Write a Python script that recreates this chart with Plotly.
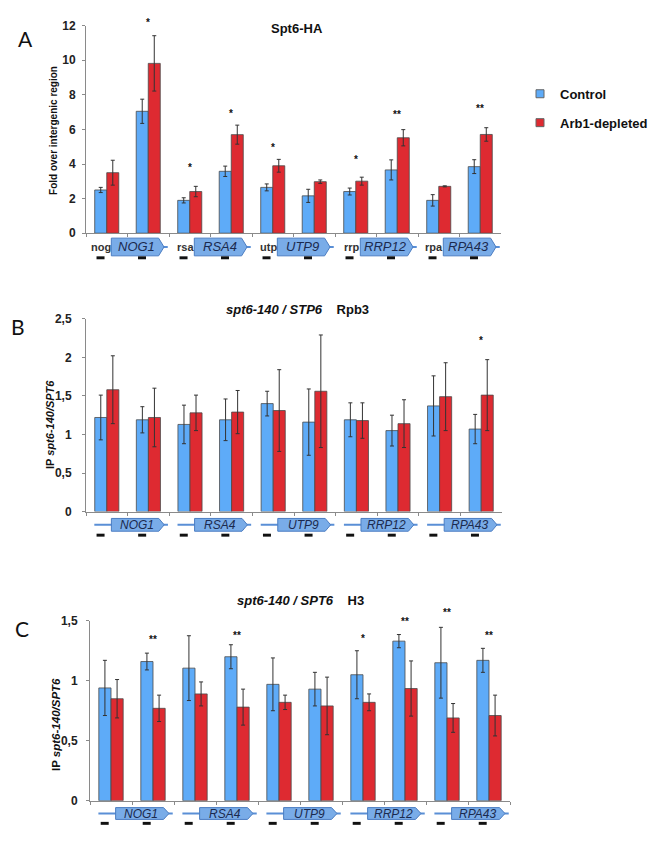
import plotly.graph_objects as go

W, H = 661, 851

# ---------------- data ----------------
categories = ["NOG1 5'", "NOG1 ORF", "RSA4 5'", "RSA4 ORF", "UTP9 5'", "UTP9 ORF",
              "RRP12 5'", "RRP12 ORF", "RPA43 5'", "RPA43 ORF"]
genes = ["NOG1", "RSA4", "UTP9", "RRP12", "RPA43"]
gene_short = ["nog", "rsa", "utp", "rrp", "rpa"]
series_names = ["Control", "Arb1-depleted"]

# Panel A: Spt6-HA, fold over intergenic region
a_control = [2.50, 7.05, 1.90, 3.58, 2.65, 2.16, 2.41, 3.66, 1.90, 3.85]
a_control_err = [0.15, 0.70, 0.15, 0.30, 0.20, 0.38, 0.20, 0.58, 0.33, 0.40]
a_arb1 = [3.50, 9.82, 2.41, 5.70, 3.90, 2.98, 3.01, 5.52, 2.71, 5.71]
a_arb1_err = [0.72, 1.60, 0.30, 0.55, 0.37, 0.10, 0.23, 0.47, 0.03, 0.39]
a_sig = ["", "*", "*", "*", "*", "", "*", "**", "", "**"]
a_sig_y = [None, 12.2, 3.8, 6.9, 4.95, None, 4.27, 6.87, None, 7.23]

# Panel B: Rpb3, IP spt6-140/SPT6
b_control = [1.22, 1.19, 1.13, 1.19, 1.40, 1.16, 1.19, 1.05, 1.37, 1.07]
b_control_err = [0.29, 0.17, 0.25, 0.27, 0.16, 0.43, 0.22, 0.20, 0.39, 0.19]
b_arb1 = [1.58, 1.22, 1.28, 1.29, 1.31, 1.56, 1.18, 1.14, 1.49, 1.51]
b_arb1_err = [0.44, 0.38, 0.23, 0.28, 0.53, 0.73, 0.23, 0.31, 0.44, 0.46]
b_sig = ["", "", "", "", "", "", "", "", "", "*"]
b_sig_y = [None, None, None, None, None, None, None, None, None, 2.22]

# Panel C: H3, IP spt6-140/SPT6
c_control = [0.94, 1.16, 1.105, 1.20, 0.97, 0.93, 1.05, 1.33, 1.15, 1.17]
c_control_err = [0.23, 0.07, 0.27, 0.10, 0.22, 0.14, 0.20, 0.055, 0.295, 0.10]
c_arb1 = [0.85, 0.77, 0.89, 0.78, 0.82, 0.79, 0.82, 0.935, 0.69, 0.71]
c_arb1_err = [0.16, 0.11, 0.10, 0.15, 0.06, 0.24, 0.07, 0.23, 0.12, 0.17]
c_sig = ["", "**", "", "**", "", "", "*", "**", "**", "**"]
c_sig_y = [None, 1.34, None, 1.38, None, None, 1.35, 1.49, 1.57, 1.38]

# ---------------- style ----------------
BLUE = "#5EABF8"
RED = "#DE2A31"
BAR_LINE = "#4a4a4a"
ERR = "#333333"
AXIS = "#8a8a8a"
FONT = "Liberation Sans, Arial, sans-serif"
GENE_FILL = "#79ACE8"
GENE_LINE = "#4B7DC2"
GENE_STROKE = "#5A8FD6"
GENE_TEXT = "#1b2a4e"


def py(px):
    return 1 - px / H


def px_x(px):
    return px / W


panels = [
    dict(s="", ctrl=a_control, ctrl_err=a_control_err, arb=a_arb1, arb_err=a_arb1_err,
         sig=a_sig, sig_y=a_sig_y, xd=(86, 501), yd=(19, 230), yr=[0, 12], dt=2, sd=4),
    dict(s="2", ctrl=b_control, ctrl_err=b_control_err, arb=b_arb1, arb_err=b_arb1_err,
         sig=b_sig, sig_y=b_sig_y, xd=(86, 502), yd=(317, 513), yr=[0, 2.5], dt=0.5, sd=8),
    dict(s="3", ctrl=c_control, ctrl_err=c_control_err, arb=c_arb1, arb_err=c_arb1_err,
         sig=c_sig, sig_y=c_sig_y, xd=(90, 510), yd=(624, 807), yr=[0, 1.5], dt=0.5, sd=6),
]

fig = go.Figure()

for k, p in enumerate(panels):
    for name, vals, errs, col in [(series_names[0], p["ctrl"], p["ctrl_err"], BLUE),
                                  (series_names[1], p["arb"], p["arb_err"], RED)]:
        fig.add_trace(go.Bar(
            x=categories, y=vals, name=name,
            marker=dict(color=col, line=dict(color=BAR_LINE, width=0.8)),
            error_y=dict(type="data", array=errs, color=ERR, thickness=1, width=2),
            xaxis="x" + p["s"], yaxis="y" + p["s"],
            showlegend=False, legendgroup=name,
        ))

# legend entries (small square keys)
for name, col in zip(series_names, [BLUE, RED]):
    fig.add_trace(go.Scatter(
        x=[None], y=[None], mode="markers", name=name, legendgroup=name,
        marker=dict(symbol="square", size=8, color=col, line=dict(color="#666", width=1)),
        showlegend=True,
    ))

annotations = []
shapes = []
layout_axes = {}


def val_to_paper(p, v):
    lo, hi = p["yr"]
    d0, d1 = py(p["yd"][1]), py(p["yd"][0])
    return d0 + (v - lo) / (hi - lo) * (d1 - d0)


def note(**kw):
    kw.setdefault("showarrow", False)
    kw.setdefault("xanchor", "center")
    kw.setdefault("yanchor", "middle")
    annotations.append(kw)


for k, p in enumerate(panels):
    s = p["s"]
    layout_axes["xaxis" + s] = dict(
        domain=[px_x(p["xd"][0]), px_x(p["xd"][1])],
        anchor="y" + s, type="category", range=[-0.5, len(categories) - 0.5],
        showline=True, linecolor=AXIS, linewidth=1,
        ticks="outside", tickson="boundaries", ticklen=3, tickcolor=AXIS,
        showticklabels=False, showgrid=False, zeroline=False,
    )
    layout_axes["yaxis" + s] = dict(
        domain=[py(p["yd"][1]), py(p["yd"][0])],
        anchor="x" + s, range=p["yr"], dtick=p["dt"],
        showline=True, linecolor=AXIS, linewidth=1,
        ticks="outside", ticklen=3, tickcolor=AXIS, ticklabelstandoff=p["sd"],
        tickfont=dict(family=FONT, size=12, color="#222", weight="bold"),
        showgrid=False, zeroline=False,
    )
    for i, st in enumerate(p["sig"]):
        if st:
            note(x=categories[i], y=val_to_paper(p, p["sig_y"][i]), xref="x" + s, yref="paper",
                 text=st, font=dict(family=FONT, size=10, color="#111", weight="bold"))

# ---------------- gene diagrams ----------------
gene_cfg = [
    dict(box_c=14, box_h=18, dash=25, fs=13, line=False),
    dict(box_c=13.5, box_h=13, dash=24, fs=12, line=True),
    dict(box_c=13, box_h=12, dash=23, fs=12, line=True),
]
for k, p in enumerate(panels):
    s = p["s"]
    g = gene_cfg[k]
    axis_px = p["yd"][1]
    ym = py(axis_px + g["box_c"])
    yt = py(axis_px + g["box_c"] - g["box_h"] / 2)
    yb = py(axis_px + g["box_c"] + g["box_h"] / 2)
    cat_w = (p["xd"][1] - p["xd"][0]) / len(categories)
    dash_half = 4 / cat_w
    for gi, gname in enumerate(genes):
        base = 2 * gi
        if g["line"]:
            shapes.append(dict(type="line", xref="x" + s, yref="paper",
                               x0=base - 0.30, x1=base + 1.47, y0=ym, y1=ym,
                               line=dict(color=GENE_STROKE, width=2), layer="above"))
        else:
            shapes.append(dict(type="line", xref="x" + s, yref="paper",
                               x0=base + 1.3, x1=base + 1.47, y0=ym, y1=ym,
                               line=dict(color=GENE_STROKE, width=2), layer="above"))
            note(x=base + 0.12, y=ym, xref="x" + s, yref="paper", xanchor="right",
                 text=gene_short[gi], borderpad=0,
                 font=dict(family=FONT, size=11, color="#333", weight="bold"))
        path = (f"M {base + 0.11},{yt} L {base + 1.25},{yt} L {base + 1.38},{ym} "
                f"L {base + 1.25},{yb} L {base + 0.11},{yb} Z")
        shapes.append(dict(type="path", xref="x" + s, yref="paper", path=path,
                           fillcolor=GENE_FILL, line=dict(color=GENE_LINE, width=1),
                           layer="above"))
        note(x=base + 0.72, y=ym, xref="x" + s, yref="paper",
             text="<i>" + gname + "</i>",
             font=dict(family=FONT, size=g["fs"], color=GENE_TEXT))
        for j in (0, 1):
            xc = base + j - 0.15
            shapes.append(dict(type="rect", xref="x" + s, yref="paper",
                               x0=xc - dash_half, x1=xc + dash_half,
                               y0=py(axis_px + g["dash"] + 1.5), y1=py(axis_px + g["dash"] - 1.5),
                               fillcolor="#111", line=dict(width=0), layer="above"))

# ---------------- titles, labels, letters ----------------
note(x=px_x(297), y=py(22), xref="paper", yref="paper",
     text="<b>Spt6-HA</b>", font=dict(family=FONT, size=13, color="#111"))
note(x=px_x(297), y=py(308), xref="paper", yref="paper",
     text="<b><i>spt6-140 / STP6</i>\u00a0\u00a0\u00a0\u00a0Rpb3</b>",
     font=dict(family=FONT, size=13, color="#111"))
note(x=px_x(300), y=py(603), xref="paper", yref="paper",
     text="<b><i>spt6-140 / SPT6</i>\u00a0\u00a0\u00a0\u00a0H3</b>",
     font=dict(family=FONT, size=13, color="#111"))
note(x=px_x(54), y=py(125), xref="paper", yref="paper", textangle=-90,
     text="<b>Fold over intergenic region</b>", font=dict(family=FONT, size=10, color="#111"))
note(x=px_x(50), y=py(425), xref="paper", yref="paper", textangle=-90,
     text="<b>IP <i>spt6-140/SPT6</i></b>", font=dict(family=FONT, size=11, color="#111"))
note(x=px_x(56), y=py(730), xref="paper", yref="paper", textangle=-90,
     text="<b>IP <i>spt6-140/SPT6</i></b>", font=dict(family=FONT, size=11.5, color="#111"))
for letter, lx, ly in [("A", 25, 32), ("B", 18, 325), ("C", 22, 632)]:
    note(x=px_x(lx), y=py(ly), xref="paper", yref="paper", text=letter,
         font=dict(family="Lato, Open Sans, sans-serif", size=21, color="#111"))

fig.update_layout(
    width=W, height=H, margin=dict(l=0, r=0, t=0, b=0),
    paper_bgcolor="white", plot_bgcolor="white",
    barmode="group", bargap=0.42, bargroupgap=0,
    separators=", ",
    font=dict(family=FONT, color="#111"),
    legend=dict(x=px_x(520), y=py(73), xanchor="left", yanchor="top",
                font=dict(family=FONT, size=13, color="#111", weight="bold"),
                tracegroupgap=9, itemsizing="trace", itemwidth=30,
                bgcolor="rgba(0,0,0,0)"),
    annotations=annotations, shapes=shapes,
    **layout_axes,
)

fig.write_html("out.html", config={"displayModeBar": False},
               post_script="document.body.style.margin='0px';")
